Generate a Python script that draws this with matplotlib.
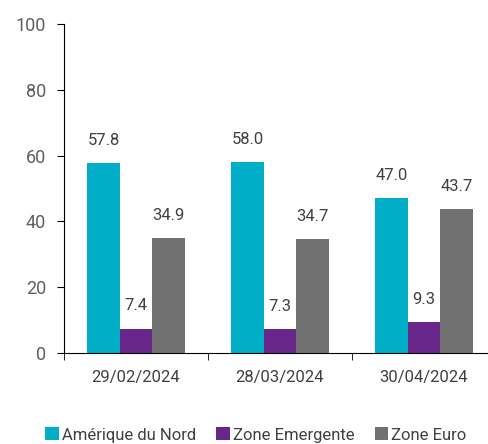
import matplotlib.pyplot as plt
import numpy as np
from matplotlib.ticker import FixedLocator

dates = ["29/02/2024", "28/03/2024", "30/04/2024"]
series = ["Amérique du Nord", "Zone Emergente", "Zone Euro"]
amerique = [57.8, 58.0, 47.0]
emergente = [7.4, 7.3, 9.3]
euro = [34.9, 34.7, 43.7]
colors = ["#00aec7", "#69268a", "#717171"]

plt.rcParams['font.family'] = ['Roboto', 'DejaVu Sans']

fig = plt.figure(figsize=(4.88, 4.44), dpi=100)
ax = fig.add_axes([64 / 488, (444 - 353) / 444, 432 / 488, 329 / 444])

x = np.arange(len(dates))
w = 0.225
for i, (vals, name) in enumerate(zip([amerique, emergente, euro], series)):
    pos = x + (i - 1) * w
    ax.bar(pos, vals, w, color=colors[i], label=name)
    for p, v in zip(pos, vals):
        ax.annotate(f"{v:.1f}", (p, v), xytext=(0, 11), textcoords="offset points",
                    ha="center", va="bottom", fontsize=12, color="#404040")

ax.set_xlim(-0.5, 2.5)
ax.set_ylim(0, 100)
ax.set_yticks([0, 20, 40, 60, 80, 100])
ax.tick_params(axis="y", labelsize=13, labelcolor="#5f5f5f", length=5, direction="out", pad=8)
ax.set_xticks(x)
ax.set_xticklabels(dates)
ax.tick_params(axis="x", which="major", length=0, labelsize=12, labelcolor="#404040", pad=12)
ax.xaxis.set_minor_locator(FixedLocator([-0.5, 0.5, 1.5]))
ax.tick_params(axis="x", which="minor", length=5)
for s in ["top", "right"]:
    ax.spines[s].set_visible(False)

ax.legend(loc="center", bbox_to_anchor=(256 / 488, 9 / 444), bbox_transform=fig.transFigure,
          ncol=3, frameon=False, fontsize=12, handlelength=0.8, handleheight=0.8,
          handletextpad=0.2, columnspacing=1.2, labelcolor="#404040")

fig.savefig("out.png", dpi=100)
